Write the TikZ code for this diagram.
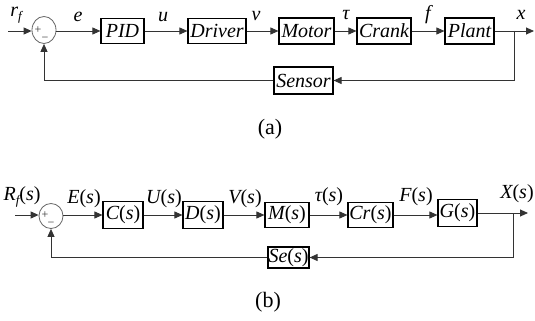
\documentclass[tikz,border=0pt]{standalone}
\usepackage{fontspec}
\setmainfont{Liberation Serif}
\usetikzlibrary{arrows.meta,shapes.geometric}
\begin{document}
\begin{tikzpicture}[x=1pt,y=-1pt,
  blk/.style={draw=black,line width=1.2pt,inner sep=0pt,font=\fontsize{20}{20}\selectfont\itshape},
  sumc/.style={draw=black!60,line width=0.8pt,ellipse,minimum width=24pt,minimum height=27pt,inner sep=0pt},
  conn/.style={draw=black!80,line width=0.9pt},
  arr/.style={conn,-{Triangle[length=8pt,width=7pt]}},
  lbl/.style={font=\fontsize{20}{20}\selectfont\itshape,inner sep=0pt},
  sgn/.style={font=\fontsize{12}{12}\selectfont,inner sep=0pt,text=black!80},
  captxt/.style={font=\fontsize{22}{22}\selectfont,inner sep=0pt}]
\useasboundingbox[fill=white] (0,0) rectangle (535,321);

% ---------- (a) ----------
\node[sumc] (s1) at (44,30) {};
\node[sgn] (p1) at (38,30) {+};
\node[sgn] (m1) at (45,39) {−};
\node[blk,minimum width=43pt,minimum height=25pt] (pid) at (122.5,31) {PID};
\node[blk,minimum width=58pt,minimum height=25pt] (drv) at (217,31) {Driver};
\node[blk,minimum width=55pt,minimum height=26pt] (mot) at (306.5,31) {Motor};
\node[blk,minimum width=54pt,minimum height=26pt] (crk) at (384,31) {Crank};
\node[blk,minimum width=49pt,minimum height=26pt] (plt) at (469.5,31) {Plant};
\node[blk,minimum width=59pt,minimum height=27pt] (sen) at (303.5,80.5) {Sensor};
\coordinate (in1) at (8,31);
\coordinate (br1) at (514,31);
\coordinate (out1) at (534,31);

\draw[arr] (in1) -- (s1.west |- in1);
\draw[arr] (s1.east |- in1) -- (pid);
\draw[arr] (pid) -- (drv);
\draw[arr] (drv) -- (mot);
\draw[arr] (mot) -- (crk);
\draw[arr] (crk) -- (plt);
\draw[conn] (plt) -- (br1);
\draw[arr] (br1) -- (out1);
\draw[arr] (br1) |- (sen);
\draw[arr] (sen) -| (s1);

\node[lbl] (lrf) at (16,15) {r\raisebox{-0.5ex}{\fontsize{13}{13}\selectfont f}};
\node[lbl] (le) at (78,17) {e};
\node[lbl] (lu) at (163,17) {u};
\node[lbl] (lv) at (256,16) {v};
\node[lbl] (ltau) at (346,15) {τ};
\node[lbl] (lf) at (428,15) {f};
\node[lbl] (lx) at (521,15) {x};
\node[captxt] (capa) at (270,129) {(a)};

% ---------- (b) ----------
\node[sumc,minimum width=24pt,minimum height=25pt] (s2) at (51,216) {};
\node[sgn] (p2) at (45,215) {+};
\node[sgn] (m2) at (51,224) {−};
\node[blk,minimum width=40pt,minimum height=27pt] (C) at (123,215) {C\upshape(\itshape s\upshape)};
\node[blk,minimum width=40pt,minimum height=27pt] (D) at (203,215) {D\upshape(\itshape s\upshape)};
\node[blk,minimum width=44pt,minimum height=25pt] (M) at (287,215) {M\upshape(\itshape s\upshape)};
\node[blk,minimum width=45pt,minimum height=25pt] (Cr) at (370.5,215) {Cr\upshape(\itshape s\upshape)};
\node[blk,minimum width=39pt,minimum height=27pt] (G) at (457.5,213) {G\upshape(\itshape s\upshape)};
\node[blk,minimum width=41pt,minimum height=21pt] (Se) at (288.5,257.5) {Se\upshape(\itshape s\upshape)};
\coordinate (in2) at (15,215);
\coordinate (br2) at (513,213);
\coordinate (out2) at (528,213);

\draw[arr] (in2) -- (s2.west |- in2);
\draw[arr] (s2.east |- in2) -- (C);
\draw[arr] (C) -- (D);
\draw[arr] (D) -- (M);
\draw[arr] (M) -- (Cr);
\draw[arr] (Cr.east) -- (G.west |- Cr.east);
\draw[conn] (G) -- (br2);
\draw[arr] (br2) -- (out2);
\draw[arr] (br2) |- (Se);
\draw[arr] (Se) -| (s2);

\node[lbl] (lR) at (22,197) {R\raisebox{-0.5ex}{\fontsize{13}{13}\selectfont f}\upshape(\itshape s\upshape)};
\node[lbl] (lE) at (84,199) {E\upshape(\itshape s\upshape)};
\node[lbl] (lU) at (164,199) {U\upshape(\itshape s\upshape)};
\node[lbl] (lV) at (245,199) {V\upshape(\itshape s\upshape)};
\node[lbl] (lT) at (329,197) {τ\upshape(\itshape s\upshape)};
\node[lbl] (lF) at (416,197) {F\upshape(\itshape s\upshape)};
\node[lbl] (lX) at (517,194) {X\upshape(\itshape s\upshape)};
\node[captxt] (capb) at (268,302) {(b)};
\end{tikzpicture}
\end{document}
